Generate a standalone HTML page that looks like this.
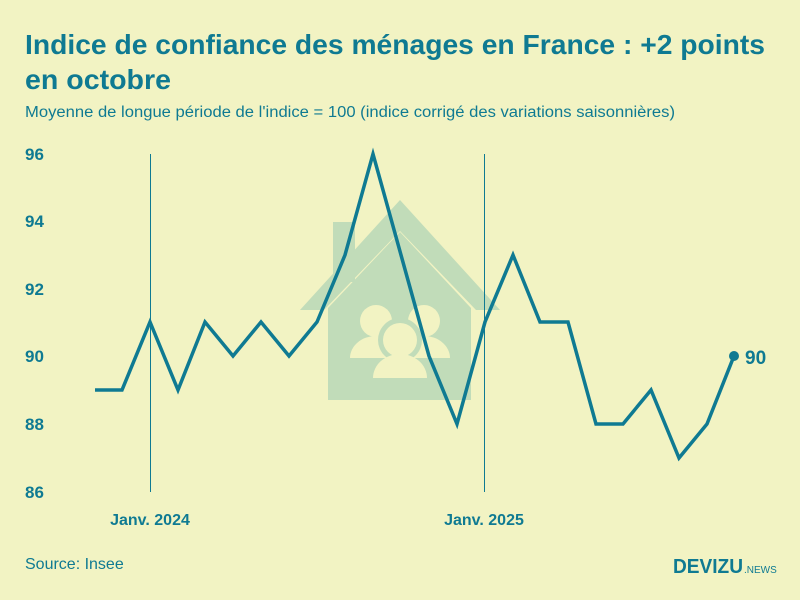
<!DOCTYPE html>
<html><head><meta charset="utf-8"><style>
body{margin:0;background:#f2f3c3;}
svg{display:block}
</style></head><body>
<svg width="800" height="600" viewBox="0 0 800 600" xmlns="http://www.w3.org/2000/svg" font-family="Liberation Sans, sans-serif">
<rect width="800" height="600" fill="#f2f3c3"/>
<text x="25" y="54" font-size="28" font-weight="bold" fill="#0f7a92" textLength="740" lengthAdjust="spacingAndGlyphs">Indice de confiance des ménages en France : +2 points</text>
<text x="25" y="89" font-size="28" font-weight="bold" fill="#0f7a92" textLength="146" lengthAdjust="spacingAndGlyphs">en octobre</text>
<text x="25" y="117" font-size="15.5" fill="#0f7a92" textLength="650" lengthAdjust="spacingAndGlyphs">Moyenne de longue période de l'indice = 100 (indice corrigé des variations saisonnières)</text>
<g fill="#c1dcb9">
<rect x="333" y="222" width="22" height="60"/>
<polygon points="400,200 500,310 476,310 400,231 324,310 300,310"/>
<polygon points="400,232 471,308 471,400 328,400 328,308"/>
</g>
<g fill="#f2f3c3">
<circle cx="376" cy="321" r="16"/><path d="M350,358 a26,22 0 0 1 52,0z"/>
<circle cx="424" cy="321" r="16"/><path d="M398,358 a26,22 0 0 1 52,0z"/>
<circle cx="400" cy="340" r="22" fill="#c1dcb9"/>
<circle cx="400" cy="340" r="17"/><path d="M373,378 a27,24 0 0 1 54,0z"/>
</g>
<g stroke="#0f7a92" stroke-width="1">
<line x1="150.5" y1="154" x2="150.5" y2="492"/>
<line x1="484.5" y1="154" x2="484.5" y2="492"/>
</g>
<g font-size="17" font-weight="bold" fill="#0f7a92">
<text x="25" y="160">96</text><text x="25" y="227">94</text><text x="25" y="295">92</text>
<text x="25" y="362">90</text><text x="25" y="430">88</text><text x="25" y="498">86</text>
<text x="150" y="525" font-size="16" text-anchor="middle">Janv. 2024</text>
<text x="484" y="525" font-size="16" text-anchor="middle">Janv. 2025</text>
<text x="745" y="364" font-size="19">90</text>
</g>
<polyline fill="none" stroke="#0f7a92" stroke-width="3.5" stroke-linejoin="miter" points="95,390 122,390 150,322 178,390 205,322 233,356 261,322 289,356 317,322 345,255 373,154 401,255 429,356 457,424 485,322 513,255 540,322 568,322 596,424 623,424 651,390 679,458 707,424 734,356"/>
<circle cx="734" cy="356" r="5" fill="#0f7a92"/>
<text x="25" y="569" font-size="16" fill="#0f7a92">Source: Insee</text>
<text x="673" y="573" font-size="20" font-weight="bold" fill="#0f7a92" textLength="70" lengthAdjust="spacingAndGlyphs">DEVIZU</text>
<text x="744" y="573" font-size="10" fill="#0f7a92">.NEWS</text>
</svg>
</body></html>
